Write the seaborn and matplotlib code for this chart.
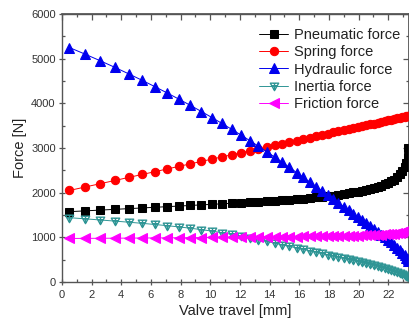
import matplotlib
matplotlib.use("Agg")
import matplotlib.pyplot as plt
import seaborn as sns
from matplotlib.path import Path
from matplotlib.ticker import MultipleLocator, NullFormatter

sns.set_theme(style="white")
plt.rcParams['font.family'] = ['Liberation Sans', 'DejaVu Sans']

travel = [0.5, 1.56, 2.58, 3.56, 4.5, 5.4, 6.26, 7.1, 7.9, 8.66,
          9.4, 10.11, 10.79, 11.44, 12.07, 12.67, 13.25, 13.81, 14.34, 14.85,
          15.34, 15.82, 16.27, 16.71, 17.13, 17.53, 17.92, 18.29, 18.64, 18.99,
          19.32, 19.63, 19.94, 20.23, 20.51, 20.78, 21.03, 21.28, 21.52, 21.75,
          21.97, 22.18, 22.38, 22.58, 22.76, 22.94, 23.1, 23.22, 23.3, 23.36]

pneumatic = [1575, 1593, 1610, 1627, 1643, 1658, 1673, 1687, 1701, 1714,
             1727, 1739, 1751, 1762, 1773, 1784, 1795, 1806, 1817, 1829,
             1841, 1853, 1866, 1879, 1893, 1907, 1922, 1937, 1953, 1970,
             1988, 2006, 2025, 2045, 2066, 2088, 2111, 2135, 2161, 2189,
             2220, 2254, 2292, 2350, 2420, 2490, 2570, 2660, 2790, 2990]

spring = [2050, 2127, 2202, 2273, 2342, 2408, 2470, 2532, 2590, 2646,
          2700, 2752, 2801, 2849, 2895, 2938, 2981, 3022, 3060, 3098,
          3133, 3168, 3201, 3233, 3264, 3293, 3322, 3349, 3374, 3400,
          3424, 3446, 3469, 3490, 3511, 3530, 3549, 3567, 3584, 3601,
          3617, 3633, 3647, 3662, 3675, 3688, 3700, 3709, 3714, 3719]

hydraulic = [5250, 5102, 4954, 4807, 4661, 4517, 4375, 4232, 4092, 3955,
             3818, 3683, 3550, 3420, 3291, 3165, 3040, 2917, 2798, 2681,
             2566, 2451, 2343, 2237, 2136, 2040, 1946, 1857, 1773, 1689,
             1610, 1534, 1458, 1387, 1317, 1250, 1187, 1123, 1062, 1002,
             945, 887, 830, 772, 715, 655, 595, 545, 505, 470]

inertia = [1440, 1415, 1389, 1364, 1339, 1314, 1288, 1261, 1233, 1204,
           1173, 1140, 1105, 1068, 1029, 989, 949, 909, 871, 834,
           799, 764, 732, 700, 670, 641, 613, 586, 560, 534,
           509, 485, 461, 438, 416, 394, 373, 351, 329, 307,
           285, 263, 241, 218, 196, 173, 151, 134, 122, 113]

friction = [975, 977, 979, 981, 983, 985, 987, 989, 991, 993,
            995, 997, 999, 1001, 1003, 1005, 1007, 1009, 1011, 1013,
            1015, 1017, 1019, 1021, 1023, 1025, 1027, 1029, 1031, 1033,
            1035, 1038, 1041, 1044, 1047, 1050, 1054, 1058, 1062, 1067,
            1072, 1078, 1084, 1091, 1100, 1115, 1133, 1148, 1162, 1178]

labels = ["Pneumatic force", "Spring force", "Hydraulic force",
          "Inertia force", "Friction force"]

# custom marker: hollow down-triangle with a cross inside
verts = [(-1, 0.8), (1, 0.8), (0, -1), (-1, 0.8),
         (0, 0.8), (0, -0.7),
         (-0.55, 0.15), (0.55, 0.15)]
codes = [Path.MOVETO, Path.LINETO, Path.LINETO, Path.CLOSEPOLY,
         Path.MOVETO, Path.LINETO,
         Path.MOVETO, Path.LINETO]
tri_cross = Path(verts, codes)

fig = plt.figure(figsize=(4.10, 3.27), dpi=100)
ax = fig.add_axes([0.1512, 0.1376, 0.8464, 0.8194])

teal = "#2f9595"
series = [
    (pneumatic, "black", dict(marker="s", markersize=5.2, markerfacecolor="black", markeredgecolor="black")),
    (spring, "#ff0000", dict(marker="o", markersize=6.0, markerfacecolor="#ff0000", markeredgecolor="#ff0000")),
    (hydraulic, "#0000ee", dict(marker="^", markersize=6.8, markerfacecolor="#0000ee", markeredgecolor="#0000ee")),
    (inertia, teal, dict(marker=tri_cross, markersize=6.0, markerfacecolor="none", markeredgecolor=teal, markeredgewidth=1.0)),
    (friction, "#ff00ff", dict(marker="<", markersize=6.5, markerfacecolor="#ff00ff", markeredgecolor="#ff00ff")),
]
for (vals, col, mk), lab in zip(series, labels):
    sns.lineplot(x=travel, y=vals, ax=ax, color=col, linewidth=0.7,
                 label=lab, **mk)

ax.set_xlim(0, 23.4)
ax.set_ylim(0, 6000)

spine_col = "#555555"
for s in ax.spines.values():
    s.set_visible(True)
    s.set_color(spine_col)
    s.set_linewidth(1.0)

ax.xaxis.set_major_locator(MultipleLocator(2))
ax.xaxis.set_minor_locator(MultipleLocator(1))
ax.yaxis.set_major_locator(MultipleLocator(1000))
ax.yaxis.set_minor_locator(MultipleLocator(500))

ax.tick_params(which="both", bottom=True, left=True, top=False, right=False,
               color=spine_col, width=0.9, labelsize=8, labelcolor="#333333")
ax.tick_params(axis="x", which="major", direction="inout", length=5, pad=3)
ax.tick_params(axis="x", which="minor", direction="in", length=2.5)
ax.tick_params(axis="y", which="major", direction="inout", length=5, pad=2)
ax.tick_params(axis="y", which="minor", direction="in", length=2.5)

# top and right ticks pointing inward
top = ax.secondary_xaxis("top")
top.xaxis.set_major_locator(MultipleLocator(2))
top.xaxis.set_minor_locator(MultipleLocator(1))
top.xaxis.set_major_formatter(NullFormatter())
top.tick_params(which="major", direction="in", length=4, color=spine_col, width=0.9)
top.tick_params(which="minor", direction="in", length=2.5, color=spine_col, width=0.9)
top.spines["top"].set_color(spine_col)
right = ax.secondary_yaxis("right")
right.yaxis.set_major_locator(MultipleLocator(1000))
right.yaxis.set_minor_locator(MultipleLocator(500))
right.yaxis.set_major_formatter(NullFormatter())
right.tick_params(which="major", direction="in", length=4, color=spine_col, width=0.9)
right.tick_params(which="minor", direction="in", length=2.5, color=spine_col, width=0.9)
right.spines["right"].set_color(spine_col)

ax.set_xlabel("Valve travel [mm]", fontsize=10.5, color="#222222", labelpad=3)
ax.set_ylabel("Force [N]", fontsize=10.5, color="#222222", labelpad=3)

leg = ax.legend(loc="upper right", bbox_to_anchor=(1.0, 0.98), frameon=False,
                fontsize=10.5, labelspacing=0.22, handlelength=2.0,
                handletextpad=0.4, borderaxespad=0.2)
for t in leg.get_texts():
    t.set_color("#222222")

fig.savefig("out.png", dpi=100)
